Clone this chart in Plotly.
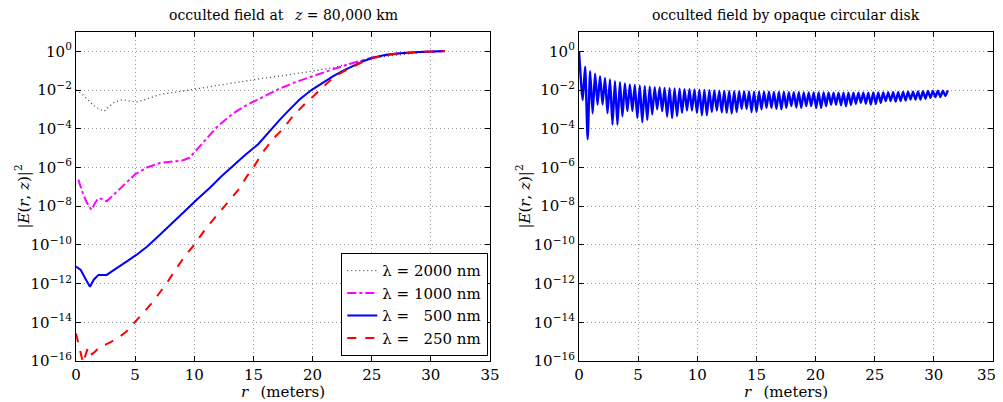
import plotly.graph_objects as go

# ---------------- left panel data (log10 |E|^2) ----------------
r_2000 = [0, 0.5, 1.0, 1.5, 2.0, 2.4, 2.8, 3.3, 3.9, 4.5, 5.1, 5.8, 7.1, 8.5, 10.0, 12.0, 14.0,
          15.5, 17.0, 18.5, 20.0, 21.7, 23.4, 24.6, 26.0, 27.4, 29.0, 31.2]
log_2000 = [-2.0, -2.2, -2.5, -2.8, -3.0, -3.09, -2.85, -2.6, -2.5, -2.55, -2.62, -2.5, -2.23, -2.1,
            -1.95, -1.75, -1.55, -1.42, -1.3, -1.17, -1.02, -0.85, -0.59, -0.41, -0.27, -0.16, -0.07, 0.0]

r_1000 = [0.2, 0.5, 0.9, 1.3, 1.6, 1.9, 2.3, 2.6, 3.2, 3.8, 4.3, 5.0, 6.0, 7.1, 8.0, 9.0, 9.6, 10.2,
          11.0, 12.0, 13.3, 14.5, 15.5, 16.5, 17.2, 18.5, 20.0, 21.7, 23.4, 25.0, 27.0, 29.0, 31.2]
log_1000 = [-6.63, -7.2, -7.8, -8.19, -7.85, -7.58, -7.65, -7.75, -7.4, -7.05, -6.8, -6.35, -6.0,
            -5.77, -5.7, -5.64, -5.5, -5.1, -4.55, -3.85, -3.2, -2.75, -2.45, -2.15, -1.93, -1.6,
            -1.28, -0.93, -0.6, -0.33, -0.13, -0.04, 0.0]

r_500 = [0, 0.4, 0.8, 1.18, 1.5, 1.9, 2.3, 2.6, 3.0, 3.6, 4.3, 5.1, 6.0, 6.8, 7.6, 8.5, 9.3, 10.2,
         11.3, 12.3, 13.3, 14.3, 15.4, 16.5, 17.2, 17.9, 18.9, 19.9, 20.9, 21.75, 22.6, 23.4, 24.2,
         25.1, 26.2, 27.4, 29.0, 31.2]
log_500 = [-11.12, -11.3, -11.75, -12.16, -11.8, -11.55, -11.55, -11.55, -11.38, -11.12, -10.85,
           -10.52, -10.1, -9.65, -9.2, -8.7, -8.2, -7.67, -7.06, -6.45, -5.9, -5.35, -4.8, -4.0,
           -3.55, -3.1, -2.49, -2.0, -1.6, -1.28, -1.0, -0.76, -0.53, -0.33, -0.18, -0.1, -0.03, 0.02]

r_250 = [0, 0.3, 0.6, 0.85, 1.04, 1.35, 1.65, 2.0, 2.5, 3.0, 3.7, 4.3, 5.0, 5.7, 6.5, 7.0, 7.7, 8.5,
         9.3, 10.0, 10.8, 11.6, 12.3, 13.0, 13.8, 14.4, 15.0, 15.8, 16.7, 17.5, 18.4, 19.3, 20.1,
         20.6, 21.2, 21.75, 22.6, 23.4, 24.2, 25.1, 26.2, 27.4, 29.0, 31.2]
log_250 = [-14.58, -15.3, -16.1, -15.6, -15.27, -15.65, -15.5, -15.25, -15.15, -15.0, -14.75, -14.45,
           -14.0, -13.5, -12.95, -12.55, -11.95, -11.2, -10.5, -10.0, -9.3, -8.7, -8.2, -7.67, -7.1,
           -6.5, -6.0, -5.2, -4.5, -4.0, -3.3, -2.75, -2.3, -2.0, -1.65, -1.35, -1.05, -0.78, -0.55,
           -0.35, -0.18, -0.1, -0.03, 0.02]

# ---------------- right panel data: extrema ----------------
r_start = [0.0]
log_start = [0.0]
r_trough = [0.31, 0.73, 1.15, 1.57, 1.99, 2.41, 2.83, 3.25, 3.67, 4.09, 4.51, 4.93, 5.35, 5.77, 6.19,
            6.61, 7.03, 7.45, 7.87, 8.29, 8.71, 9.13, 9.55, 9.97, 10.39, 10.81, 11.23, 11.65, 12.07,
            12.49, 12.91, 13.33, 13.75, 14.17, 14.59, 15.01, 15.43, 15.85, 16.27, 16.69, 17.11,
            17.53, 17.95, 18.37, 18.79, 19.21, 19.63, 20.05, 20.47, 20.89, 21.31, 21.73, 22.15,
            22.57, 22.99, 23.41, 23.83, 24.25, 24.67, 25.09, 25.51, 25.93, 26.35, 26.77, 27.19,
            27.61, 28.03, 28.45, 28.87, 29.29, 29.71, 30.13, 30.55, 30.97]
log_trough = [-2.52, -4.53, -3.2, -2.75, -2.75, -3.2, -3.78, -3.78, -3.35, -3.09, -3.09, -3.44, -3.66,
              -3.54, -3.26, -3.0, -3.09, -3.38, -3.44, -3.35, -3.18, -3.06, -3.06, -3.18, -3.3, -3.3,
              -3.13, -3.06, -3.15, -3.18, -3.21, -3.13, -2.97, -2.97, -3.13, -3.13, -3.0, -2.92, -2.92,
              -2.97, -3.0, -2.92, -2.83, -2.9, -2.92, -2.83, -2.83, -2.92, -2.92, -2.83, -2.75, -2.75,
              -2.79, -2.83, -2.77, -2.71, -2.66, -2.71, -2.75, -2.71, -2.66, -2.57, -2.57, -2.6, -2.57,
              -2.54, -2.49, -2.49, -2.49, -2.45, -2.4, -2.36, -2.36, -2.31]
r_peak = [0.52, 0.94, 1.36, 1.78, 2.2, 2.62, 3.04, 3.46, 3.88, 4.3, 4.72, 5.14, 5.56, 5.98, 6.4, 6.82,
          7.24, 7.66, 8.08, 8.5, 8.92, 9.34, 9.76, 10.18, 10.6, 11.02, 11.44, 11.86, 12.28, 12.7,
          13.12, 13.54, 13.96, 14.38, 14.8, 15.22, 15.64, 16.06, 16.48, 16.9, 17.32, 17.74, 18.16,
          18.58, 19.0, 19.42, 19.84, 20.26, 20.68, 21.1, 21.52, 21.94, 22.36, 22.78, 23.2, 23.62,
          24.04, 24.46, 24.88, 25.3, 25.72, 26.14, 26.56, 26.98, 27.4, 27.82, 28.24, 28.66, 29.08,
          29.5, 29.92, 30.34, 30.76]
log_peak = [-0.79, -1.02, -1.16, -1.28, -1.37, -1.45, -1.54, -1.59, -1.66, -1.71, -1.74, -1.78, -1.8,
            -1.83, -1.85, -1.87, -1.89, -1.9, -1.92, -1.93, -1.95, -1.96, -1.97, -1.98, -2.0, -2.01,
            -2.02, -2.03, -2.04, -2.05, -2.06, -2.06, -2.07, -2.07, -2.08, -2.08, -2.09, -2.09, -2.1,
            -2.1, -2.1, -2.11, -2.11, -2.11, -2.12, -2.12, -2.12, -2.13, -2.13, -2.13, -2.14, -2.14,
            -2.14, -2.14, -2.14, -2.14, -2.14, -2.14, -2.13, -2.13, -2.12, -2.12, -2.11, -2.11, -2.1,
            -2.09, -2.08, -2.07, -2.06, -2.05, -2.04, -2.03, -2.03]
r_end = [31.18]
log_end = [-2.02]

ytick_exp = [-16, -14, -12, -10, -8, -6, -4, -2, 0]
xtick_vals = [0, 5, 10, 15, 20, 25, 30, 35]

legend_names = ["λ = 2000 nm", "λ = 1000 nm", "λ = \u2007500 nm", "λ = \u2007250 nm"]

# ------------------------------------------------------------------------------
def tenpow(v):
    return [10 ** x for x in v]

# merge extrema for right panel
rr = list(r_start)
ll = list(log_start)
for i in range(len(r_trough)):
    rr.append(r_trough[i]); ll.append(log_trough[i])
    if i < len(r_peak):
        rr.append(r_peak[i]); ll.append(log_peak[i])
rr += r_end
ll += log_end

FONT = "DejaVu Serif"
OFF = 8  # page body margin of the browser
W, H = 1003, 402
# plot areas in screen pixels
X0L, X1L, X0R, X1R, YT, YB = 76, 490, 579, 993, 32, 361
ML, MR, MT, MB = X0L - OFF, W + OFF - X1R, YT - OFF, H + OFF - YB
PW = W - ML - MR
PH = H - MT - MB


def px(xs):
    return (xs - X0L) / PW


def py(ys):
    return (YB - ys) / PH


fig = go.Figure()

fig.add_trace(go.Scatter(x=r_2000, y=tenpow(log_2000), mode="lines", name=legend_names[0],
                         line=dict(color="#444444", width=1.3, dash="1px,3px"), xaxis="x", yaxis="y"))
fig.add_trace(go.Scatter(x=r_1000, y=tenpow(log_1000), mode="lines", name=legend_names[1],
                         line=dict(color="#ff00ff", width=2, dash="dashdot"), xaxis="x", yaxis="y"))
fig.add_trace(go.Scatter(x=r_500, y=tenpow(log_500), mode="lines", name=legend_names[2],
                         line=dict(color="#0000ff", width=2), xaxis="x", yaxis="y"))
fig.add_trace(go.Scatter(x=r_250, y=tenpow(log_250), mode="lines", name=legend_names[3],
                         line=dict(color="#ff0000", width=2, dash="dash"), xaxis="x", yaxis="y"))
fig.add_trace(go.Scatter(x=rr, y=tenpow(ll), mode="lines", showlegend=False,
                         line=dict(color="#0000ff", width=2.4, shape="spline", smoothing=0.5),
                         xaxis="x2", yaxis="y2"))

ytext = ["10<sup>%s</sup>" % (str(e).replace("-", "\u2212")) for e in ytick_exp]
yvals = [10 ** e for e in ytick_exp]

TICKFONT = dict(family=FONT, size=15, color="black")
axis_common = dict(showline=True, linecolor="black", linewidth=1.3, mirror="ticks",
                   ticks="inside", ticklen=5, tickcolor="black", automargin=False,
                   showgrid=True, gridcolor="#999999", griddash="1px,3px", gridwidth=1,
                   zeroline=False, tickfont=TICKFONT)

d1 = [px(X0L), px(X1L)]
d2 = [px(X0R), px(X1R)]
xtext = [str(v) for v in xtick_vals]
# on the right panel the last label sits at the page edge: it is drawn as an annotation instead
xtext_right = xtext[:-1] + [""]
fig.layout["xaxis"] = dict(axis_common, domain=d1, anchor="y", range=[0, 35],
                           tickvals=xtick_vals, ticktext=xtext)
fig.layout["xaxis2"] = dict(axis_common, domain=d2, anchor="y2", range=[0, 35],
                            tickvals=xtick_vals, ticktext=xtext_right)
for key, anchor in [("yaxis", "x"), ("yaxis2", "x2")]:
    fig.layout[key] = dict(axis_common, anchor=anchor, type="log", range=[-16, 1],
                           tickvals=yvals, ticktext=ytext, domain=[0, 1])

ann = []
title_font = dict(family=FONT, size=14, color="black")
ann.append(dict(text="occulted field at \u2002<i>z</i> = 80,000 km", x=(d1[0] + d1[1]) / 2,
                y=py(15), xref="paper", yref="paper", xanchor="center", yanchor="middle",
                showarrow=False, font=title_font))
ann.append(dict(text="occulted field by opaque circular disk", x=(d2[0] + d2[1]) / 2,
                y=py(15), xref="paper", yref="paper", xanchor="center", yanchor="middle",
                showarrow=False, font=title_font))
for dom in (d1, d2):
    ann.append(dict(text="<i>r</i> \u2002(meters)", x=(dom[0] + dom[1]) / 2, y=py(392),
                    xref="paper", yref="paper", xanchor="center", yanchor="middle", showarrow=False,
                    font=dict(family=FONT, size=15, color="black")))
ylab = "|<i>E</i>(<i>r</i>, <i>z</i>)|<sup>2</sup>"
for xs in (22, 523):
    ann.append(dict(text=ylab, x=px(xs), y=0.5, xref="paper", yref="paper", textangle=-90,
                    xanchor="center", yanchor="middle", showarrow=False,
                    font=dict(family=FONT, size=15, color="black")))
ann.append(dict(text=xtext[-1], x=px(997), y=py(375), xref="paper", yref="paper",
                xanchor="right", yanchor="middle", showarrow=False, borderpad=0, font=TICKFONT))

fig.update_layout(
    width=W, height=H,
    margin=dict(l=ML, r=MR, t=MT, b=MB, autoexpand=False),
    paper_bgcolor="white", plot_bgcolor="white",
    annotations=ann,
    showlegend=True,
    legend=dict(x=px(488), y=py(356), xanchor="right", yanchor="bottom",
                bgcolor="white", bordercolor="black", borderwidth=1.3,
                font=dict(family=FONT, size=15, color="black"),
                tracegroupgap=0, itemwidth=30),
)

fig.write_html("out.html")
